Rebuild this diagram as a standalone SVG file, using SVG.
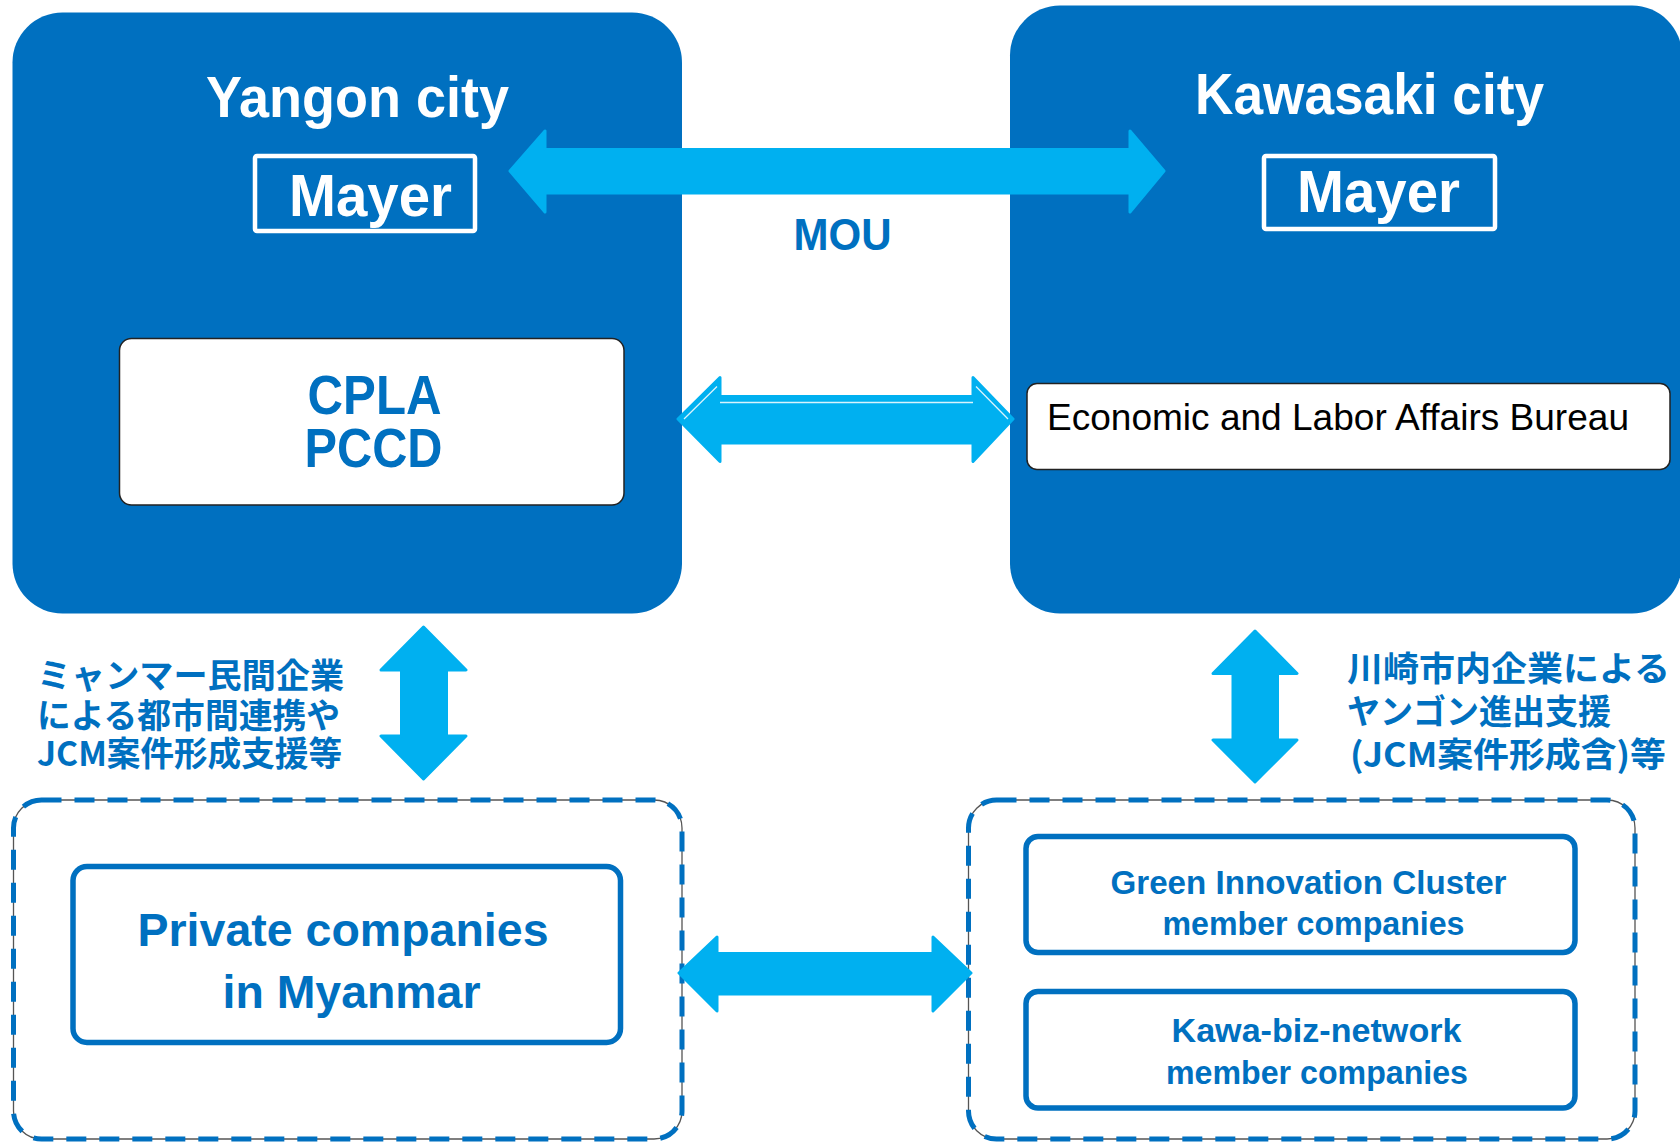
<svg xmlns="http://www.w3.org/2000/svg" width="1680" height="1142" viewBox="0 0 1680 1142">
<style>
.city{fill:#0070C0;}
.title{fill:#fff;font-family:"Liberation Sans",Arial,sans-serif;font-weight:bold;}
.mayer{fill:none;stroke:#fff;stroke-width:4.5;}
.wbox{fill:#fff;stroke:#222;stroke-width:1.5;}
.blue{fill:#0070C0;}
.bt{font-family:"Liberation Sans",Arial,sans-serif;font-weight:bold;}
.jp{fill:#0070C0;font-family:"Noto Sans CJK JP","Noto Sans",sans-serif;font-weight:bold;font-size:34px;}
.arrow{fill:#00B0F0;stroke:#00B0F0;stroke-width:3;stroke-linejoin:round;}
.dashthin{fill:none;stroke:#555;stroke-width:1.3;}
.dash{fill:none;stroke:#0070C0;stroke-width:5;stroke-dasharray:20 13;}
.cbox{fill:#fff;stroke:#0070C0;stroke-width:5.5;}
.hl{stroke:#fff;stroke-width:1.3;opacity:0.85;fill:none;}
</style>

<g id="yangon-city">
  <rect class="city" x="12.5" y="12.5" width="669.5" height="601" rx="50"/>
  <text class="title" x="206" y="116.5" font-size="58" textLength="303" lengthAdjust="spacingAndGlyphs">Yangon city</text>
</g>
<g id="yangon-mayer">
  <rect class="mayer" x="255" y="156" width="220" height="75" rx="2"/>
  <text class="title" x="289" y="215.5" font-size="60" textLength="163" lengthAdjust="spacingAndGlyphs">Mayer</text>
</g>
<g id="cpla-pccd">
  <rect class="wbox" x="119.5" y="338.5" width="504.5" height="166.5" rx="12"/>
  <text class="bt blue" x="307.5" y="414" font-size="55" textLength="134" lengthAdjust="spacingAndGlyphs">CPLA</text>
  <text class="bt blue" x="304.5" y="466.5" font-size="55" textLength="138" lengthAdjust="spacingAndGlyphs">PCCD</text>
</g>

<g id="kawasaki-city">
  <rect class="city" x="1010" y="5.5" width="672" height="608" rx="50"/>
  <text class="title" x="1195" y="113.5" font-size="58" textLength="349" lengthAdjust="spacingAndGlyphs">Kawasaki city</text>
</g>
<g id="kawasaki-mayer">
  <rect class="mayer" x="1264" y="156" width="231" height="73" rx="2"/>
  <text class="title" x="1297" y="212" font-size="60" textLength="163" lengthAdjust="spacingAndGlyphs">Mayer</text>
</g>
<g id="economic-bureau">
  <rect class="wbox" x="1027" y="383.5" width="643" height="86" rx="10"/>
  <text x="1047" y="430" font-family="'Liberation Sans',Arial,sans-serif" font-size="37" fill="#000" textLength="582" lengthAdjust="spacingAndGlyphs">Economic and Labor Affairs Bureau</text>
</g>

<g id="myanmar-label">
  <text class="jp" x="37" y="687.5" textLength="307" lengthAdjust="spacingAndGlyphs">ミャンマー民間企業</text>
  <text class="jp" x="37" y="727.5" textLength="303" lengthAdjust="spacingAndGlyphs">による都市間連携や</text>
  <text class="jp" x="37" y="766" textLength="305" lengthAdjust="spacingAndGlyphs">JCM案件形成支援等</text>
</g>
<g id="kawasaki-label">
  <text class="jp" x="1347" y="680.5" font-size="35" textLength="323" lengthAdjust="spacingAndGlyphs">川崎市内企業による</text>
  <text class="jp" x="1347" y="724" font-size="35" textLength="264" lengthAdjust="spacingAndGlyphs">ヤンゴン進出支援</text>
  <text class="jp" x="1350" y="766.5" font-size="35" textLength="316" lengthAdjust="spacingAndGlyphs">(JCM案件形成含)等</text>
</g>

<g id="myanmar-group">
  <rect class="dashthin" x="13.5" y="800" width="668.5" height="339" rx="28"/>
  <rect class="dash" x="13.5" y="800" width="668.5" height="339" rx="28"/>
</g>
<g id="private-companies">
  <rect class="cbox" x="73" y="866.5" width="547.5" height="176" rx="14"/>
  <text class="bt blue" x="137.5" y="945.5" font-size="47" textLength="411" lengthAdjust="spacingAndGlyphs">Private companies</text>
  <text class="bt blue" x="222.5" y="1007.5" font-size="47" textLength="258" lengthAdjust="spacingAndGlyphs">in Myanmar</text>
</g>

<g id="kawasaki-group">
  <rect class="dashthin" x="968.5" y="800" width="666.5" height="339" rx="28"/>
  <rect class="dash" x="968.5" y="800" width="666.5" height="339" rx="28"/>
</g>
<g id="green-innovation">
  <rect class="cbox" x="1026" y="836.5" width="549" height="116" rx="12" stroke-width="5"/>
  <text class="bt blue" x="1110.5" y="893.5" font-size="34" textLength="396" lengthAdjust="spacingAndGlyphs">Green Innovation Cluster</text>
  <text class="bt blue" x="1162.5" y="935" font-size="34" textLength="302" lengthAdjust="spacingAndGlyphs">member companies</text>
</g>
<g id="kawa-biz">
  <rect class="cbox" x="1026" y="991.5" width="549" height="116.5" rx="12" stroke-width="5"/>
  <text class="bt blue" x="1171.5" y="1042" font-size="34" textLength="290" lengthAdjust="spacingAndGlyphs">Kawa-biz-network</text>
  <text class="bt blue" x="1166" y="1083.5" font-size="34" textLength="302" lengthAdjust="spacingAndGlyphs">member companies</text>
</g>

<g id="connectors">
  <path class="arrow" d="M510,171 L545,131 L545,149.5 L1130,149.5 L1130,131 L1164,171 L1130,212 L1130,193 L545,193 L545,212 Z"/>
  <text class="bt blue" x="793.5" y="249.5" font-size="44" textLength="98" lengthAdjust="spacingAndGlyphs">MOU</text>
  <path class="arrow" d="M678,419 L720,377.5 L720,396.5 L973,396.5 L973,377.5 L1013,419 L973,461.5 L973,443 L720,443 L720,461.5 Z"/>
  <path class="hl" d="M720,402.5 L973,402.5 M684,419 L717,386.5 M976,386.5 L1008,419"/>
  <path class="arrow" d="M423.5,627 L466,670 L446.5,670 L446.5,736 L466,736 L423.5,779 L381,736 L401.5,736 L401.5,670 L381,670 Z"/>
  <path class="arrow" d="M1255,631 L1297,673.5 L1277.5,673.5 L1277.5,740 L1297,740 L1255,782 L1213,740 L1233,740 L1233,673.5 L1213,673.5 Z"/>
  <path class="arrow" d="M679,973 L717,937 L717,953.5 L933,953.5 L933,937 L971,973 L933,1011 L933,994 L717,994 L717,1011 Z"/>
</g>
</svg>
